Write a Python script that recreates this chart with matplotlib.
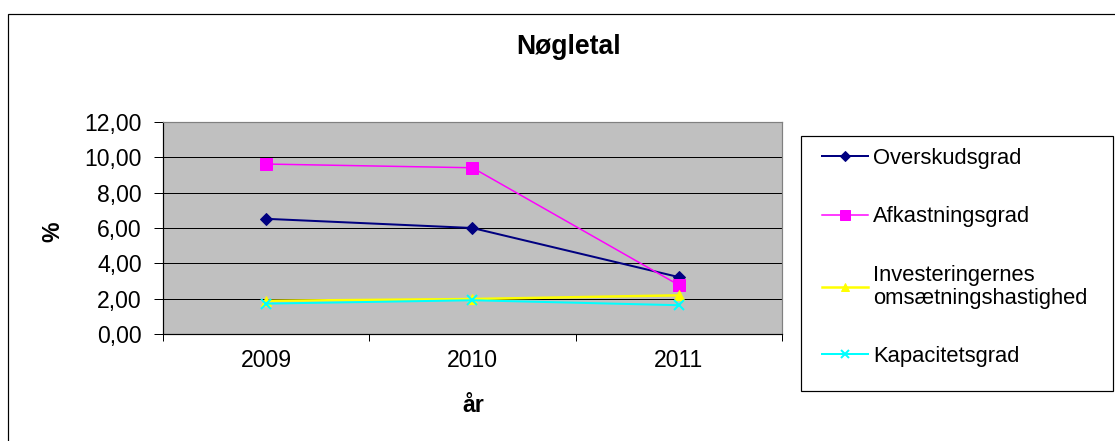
"""Recreate the 'Nøgletal' key figure line chart (2009-2011)."""

import matplotlib.pyplot as plt
from matplotlib.patches import Rectangle
from matplotlib.ticker import FuncFormatter

years = ['2009', '2010', '2011']
overskudsgrad = [6.52, 6.00, 3.22]
afkastningsgrad = [9.62, 9.41, 2.77]
investering_omsaetning = [1.88, 1.98, 2.19]
kapacitetsgrad = [1.72, 1.91, 1.63]

series_labels = ['Overskudsgrad', 'Afkastningsgrad',
                 'Investeringernes\nomsætningshastighed', 'Kapacitetsgrad']

W, H = 1115, 441
DPI = 72


def fx(px):
    return px / W


def fy(px):
    return 1 - px / H


def plot_lines(ax):
    """Draw the four series on the category axis."""
    x = range(len(years))
    ax.plot(x, overskudsgrad, color='#000080', lw=2, marker='D', ms=9,
            label=series_labels[0])
    ax.plot(x, afkastningsgrad, color='#FF00FF', lw=1.5, marker='s', ms=12,
            label=series_labels[1])
    ax.plot(x, investering_omsaetning, color='#FFFF00', lw=2.5, marker='^',
            ms=10, label=series_labels[2])
    ax.plot(x, kapacitetsgrad, color='#00FFFF', lw=2, marker='x', ms=10,
            mew=2, label=series_labels[3])


def style_axes(ax):
    ax.set_facecolor('#C0C0C0')
    ax.set_xlim(-0.5, len(years) - 0.5)
    ax.set_ylim(0, 12)
    ax.set_yticks(range(0, 13, 2))
    ax.yaxis.set_major_formatter(
        FuncFormatter(lambda v, p: f'{v:.2f}'.replace('.', ',')))
    ax.set_xticks(range(len(years)))
    ax.set_xticklabels(years)
    ax.set_xticks([i - 0.5 for i in range(len(years) + 1)], minor=True)
    ax.tick_params(axis='x', which='major', length=0, pad=15, labelsize=23)
    ax.tick_params(axis='x', which='minor', length=7, width=1,
                   direction='out', color='black')
    ax.tick_params(axis='y', length=9, width=1, direction='out', pad=12,
                   labelsize=23, color='black')
    ax.grid(True, axis='y', color='black', lw=1)
    ax.set_axisbelow(True)
    for side in ['left', 'bottom']:
        ax.spines[side].set_color('black')
        ax.spines[side].set_linewidth(1.2)
    for side in ['top', 'right']:
        ax.spines[side].set_color('#808080')
        ax.spines[side].set_linewidth(1.2)


def main():
    plt.rcParams['font.family'] = ['Liberation Sans', 'DejaVu Sans']
    fig = plt.figure(figsize=(W / DPI, H / DPI), dpi=DPI)
    fig.patch.set_facecolor('white')

    # outer chart border (only top and left edges fall inside the image)
    fig.add_artist(Rectangle((fx(8), -0.2), 1.5, fy(14) + 0.2,
                             transform=fig.transFigure, fill=False,
                             edgecolor='black', lw=1.2))

    ax = fig.add_axes([fx(163), fy(334), fx(782) - fx(163), fy(122) - fy(334)])
    plot_lines(ax)
    style_axes(ax)

    fig.text(fx(569), fy(47), 'Nøgletal', ha='center', va='center',
             fontsize=26.5, fontweight='bold')
    fig.text(fx(53), fy(232), '%', ha='center', va='center', rotation=90,
             fontsize=23, fontweight='bold')
    fig.text(fx(473), fy(405), 'år', ha='center', va='center',
             fontsize=23, fontweight='bold')

    # legend frame
    fig.add_artist(Rectangle((fx(801), fy(391)), fx(1113) - fx(801),
                             fy(136) - fy(391), transform=fig.transFigure,
                             fill=False, edgecolor='black', lw=1.2))
    handles, labels = ax.get_legend_handles_labels()
    leg = fig.legend(handles, labels, loc='upper left',
                     bbox_to_anchor=(fx(822), fy(148)), frameon=False,
                     fontsize=22, handlelength=2.1, handletextpad=0.22,
                     labelspacing=1.7, borderpad=0, borderaxespad=0,
                     markerscale=0.8)
    leg.get_texts()[2].set_linespacing(1.12)

    fig.savefig('out.png', dpi=DPI)


if __name__ == '__main__':
    main()
